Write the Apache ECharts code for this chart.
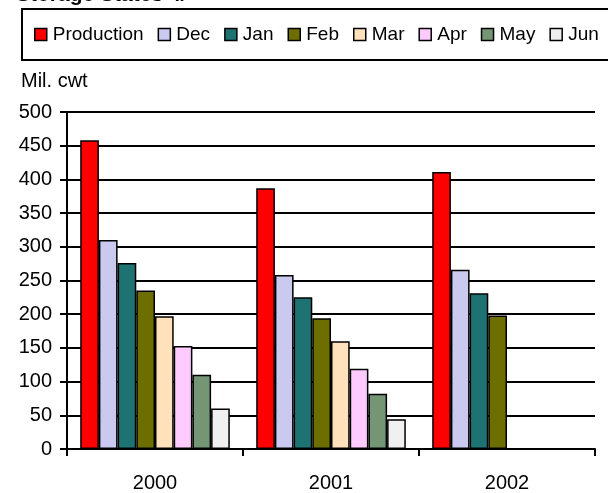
<!DOCTYPE html>
<html>
<head>
<meta charset="utf-8">
<script src="https://cdn.jsdelivr.net/npm/echarts@6/dist/echarts.min.js"></script>
<style>
  html, body { margin: 0; padding: 0; background: #fff; }
  #chart { width: 608px; height: 493px; }
</style>
</head>
<body>
<div id="chart"></div>
<script>
// chart data
var years = ['2000', '2001', '2002'];
var seriesNames = ['Production', 'Dec', 'Jan', 'Feb', 'Mar', 'Apr', 'May', 'Jun'];
var production = [458, 387, 411];
var dec = [310, 258, 266];
var jan = [276, 225, 231];
var feb = [235, 194, 198];
var mar = [197, 160, null];
var apr = [153, 119, null];
var may = [110, 82, null];
var jun = [60, 44, null];

var colors = ['#ff0000', '#cacaf0', '#1e7272', '#6e6e00', '#ffe2bb', '#ffcafe', '#759675', '#f0f0f0'];
var values = [production, dec, jan, feb, mar, apr, may, jun];

var chart = echarts.init(document.getElementById('chart'));
var font = 'Liberation Sans, Arial, sans-serif';

var series = seriesNames.map(function (name, i) {
  return {
    name: name,
    type: 'bar',
    barGap: 0,
    barCategoryGap: '15%',
    data: values[i],
    itemStyle: { color: colors[i], borderColor: '#000', borderWidth: 1.5 }
  };
});

var option = {
  animation: false,
  title: {
    text: 'Storage States 4/',
    left: 11,
    top: -20,
    textStyle: { fontFamily: font, fontSize: 21, fontWeight: 'bold', color: '#000' }
  },
  graphic: [{
    type: 'rect',
    shape: { x: 22, y: 9, width: 620, height: 51 },
    style: { fill: 'none', stroke: '#000', lineWidth: 2 }
  }],
  legend: {
    data: seriesNames,
    left: 34,
    top: 25,
    padding: 0,
    itemWidth: 12,
    itemHeight: 12,
    itemGap: 14,
    icon: 'rect',
    itemStyle: { borderColor: '#000', borderWidth: 1.5 },
    textStyle: { fontFamily: font, fontSize: 19, color: '#000', padding: [0, 0, 0, 1] }
  },
  grid: { left: 67, right: 13, top: 112, bottom: 44 },
  xAxis: {
    type: 'category',
    data: years,
    axisLine: { lineStyle: { color: '#000', width: 2 } },
    axisTick: { show: true, length: 7, lineStyle: { color: '#000', width: 2 } },
    axisLabel: { fontFamily: font, fontSize: 20, color: '#000', margin: 24 }
  },
  yAxis: {
    type: 'value',
    min: 0,
    max: 500,
    interval: 50,
    name: 'Mil. cwt',
    nameLocation: 'end',
    nameGap: 21,
    nameTextStyle: { fontFamily: font, fontSize: 20, color: '#000', align: 'left', padding: [0, 0, 0, -46] },
    axisLine: { show: true, lineStyle: { color: '#000', width: 2 } },
    axisTick: { show: true, length: 7, lineStyle: { color: '#000', width: 2 } },
    axisLabel: { fontFamily: font, fontSize: 20, color: '#000', margin: 15 },
    splitLine: { lineStyle: { color: '#000', width: 2 } }
  },
  series: series
};

chart.setOption(option);
</script>
</body>
</html>
